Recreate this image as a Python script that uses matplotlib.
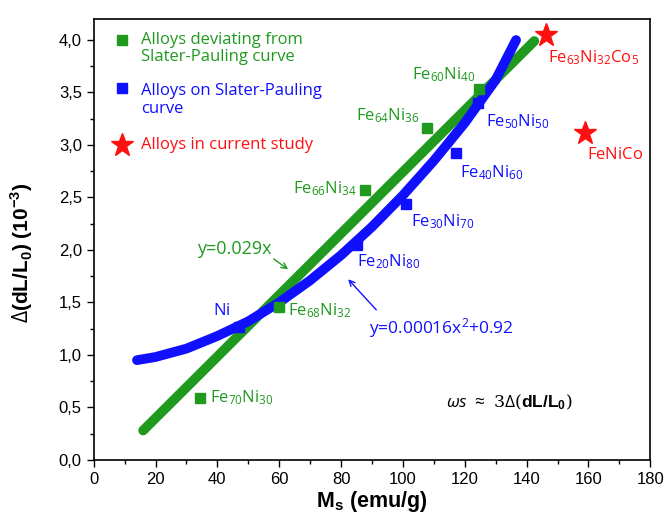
import matplotlib
matplotlib.use("Agg")
from matplotlib import pyplot as plt
from matplotlib.ticker import MultipleLocator, FuncFormatter

plt.rcParams['font.family'] = ['Liberation Sans', 'DejaVu Sans']
plt.rcParams['mathtext.fontset'] = 'custom'
plt.rcParams['mathtext.rm'] = 'Open Sans'
plt.rcParams['mathtext.it'] = 'Open Sans:italic'
plt.rcParams['mathtext.bf'] = 'Liberation Sans:bold'

# alloys deviating from Slater-Pauling curve (green)
dev_names = ['Fe70Ni30', 'Fe68Ni32', 'Fe66Ni34', 'Fe64Ni36', 'Fe60Ni40']
dev_ms = [34.4, 59.8, 87.6, 107.8, 124.6]
dev_dl = [0.59, 1.46, 2.57, 3.16, 3.53]

# alloys on Slater-Pauling curve (blue)
sp_names = ['Ni', 'Fe20Ni80', 'Fe30Ni70', 'Fe40Ni60', 'Fe50Ni50']
sp_ms = [47.0, 85.0, 101.0, 117.2, 124.3]
sp_dl = [1.27, 2.05, 2.44, 2.92, 3.40]

# alloys in current study (red stars)
cur_names = ['Fe63Ni32Co5', 'FeNiCo']
cur_ms = [146.4, 159.0]
cur_dl = [4.05, 3.11]

# fitted lines
lin_x = [16, 142.5]
lin_y = [0.28, 3.99]
quad_x = [14, 20, 30, 40, 50, 60, 70, 80, 90, 100, 110, 120, 130, 136.6]
quad_y = [0.95, 0.98, 1.06, 1.18, 1.32, 1.50, 1.71, 1.95, 2.22, 2.52, 2.85, 3.21, 3.62, 4.0]

verde = '#1f9a1f'
azul = '#1010ff'
rojo = '#ff1010'

fig = plt.figure(figsize=(6.69, 5.28), dpi=100)
ax = fig.add_axes([0.140, 0.129, 0.832, 0.835])

ax.plot(lin_x, lin_y, color=verde, lw=7, solid_capstyle='round', zorder=2)
ax.plot(quad_x, quad_y, color=azul, lw=7, solid_capstyle='round', zorder=3)
ax.plot(dev_ms, dev_dl, 's', color=verde, ms=6.5, zorder=4)
ax.plot(sp_ms, sp_dl, 's', color=azul, ms=7, zorder=4)
ax.plot(cur_ms, cur_dl, '*', color=rojo, ms=17, mec=rojo, zorder=5)


def quim(nombre):
    # Fe60Ni40 -> Fe con subindices
    partes = ''
    i = 0
    while i < len(nombre):
        if nombre[i].isdigit():
            j = i
            while j < len(nombre) and nombre[j].isdigit():
                j += 1
            partes += '_{' + nombre[i:j] + '}'
            i = j
        else:
            partes += nombre[i]
            i += 1
    return r'$\mathrm{' + partes + '}$'


fs = 12
etiquetas = [
    ('Fe70Ni30', 37.5, 0.59, verde),
    ('Fe68Ni32', 63.0, 1.42, verde),
    ('Fe66Ni34', 64.4, 2.58, verde),
    ('Fe64Ni36', 84.7, 3.28, verde),
    ('Fe60Ni40', 103.0, 3.67, verde),
    ('Ni', 38.5, 1.42, azul),
    ('Fe20Ni80', 85.0, 1.89, azul),
    ('Fe30Ni70', 102.7, 2.27, azul),
    ('Fe40Ni60', 118.5, 2.74, azul),
    ('Fe50Ni50', 127.0, 3.22, azul),
    ('Fe63Ni32Co5', 147.0, 3.83, rojo),
    ('FeNiCo', 159.4, 2.90, rojo),
]
for nombre, x, y, c in etiquetas:
    ax.text(x, y, quim(nombre), color=c, fontsize=fs, va='center', ha='left',
            family=['Open Sans', 'DejaVu Sans'])

ax.text(33.3, 2.01, 'y=0.029x', color=verde, fontsize=13, va='center',
        family=['Open Sans', 'DejaVu Sans'])
ax.text(89, 1.26, r'y=0.00016x$^{2}$+0.92', color=azul, fontsize=12.5, va='center',
        family=['Open Sans', 'DejaVu Sans'])
ax.annotate('', xy=(63.6, 1.80), xytext=(57.5, 1.93),
            arrowprops=dict(arrowstyle='->', color=verde, lw=1))
ax.annotate('', xy=(81.7, 1.74), xytext=(92.0, 1.41),
            arrowprops=dict(arrowstyle='->', color=azul, lw=1))

ax.text(114, 0.55, r'$\mathit{\omega s}$ $\approx$ 3$\Delta$($\mathbf{dL/L_0}$)',
        fontsize=12.5, va='center', family=['DejaVu Serif'])

# leyenda hecha a mano
ax.plot([9.2], [4.0], 's', color=verde, ms=6.5, clip_on=False)
ax.text(15.3, 3.92, 'Alloys deviating from\nSlater-Pauling curve', color=verde,
        fontsize=12, va='center', ha='left', linespacing=1.15,
        family=['Open Sans', 'DejaVu Sans'])
ax.plot([9.2], [3.54], 's', color=azul, ms=6.5)
ax.text(15.3, 3.43, 'Alloys on Slater-Pauling\ncurve', color=azul,
        fontsize=12, va='center', ha='left', linespacing=1.15,
        family=['Open Sans', 'DejaVu Sans'])
ax.plot([9.2], [3.0], '*', color=rojo, ms=17)
ax.text(15.3, 3.0, 'Alloys in current study', color=rojo,
        fontsize=12, va='center', ha='left', family=['Open Sans', 'DejaVu Sans'])

ax.set_xlim(0, 180)
ax.set_ylim(0, 4.2)
ax.xaxis.set_major_locator(MultipleLocator(20))
ax.xaxis.set_minor_locator(MultipleLocator(10))
ax.yaxis.set_major_locator(MultipleLocator(0.5))
ax.yaxis.set_minor_locator(MultipleLocator(0.25))
ax.yaxis.set_major_formatter(FuncFormatter(lambda v, p: ('%.1f' % v).replace('.', ',')))
ax.tick_params(which='both', direction='out', top=False, right=False, labelsize=12)
ax.tick_params(which='major', length=5, width=1)
ax.tick_params(which='minor', length=3, width=1)
for s in ax.spines.values():
    s.set_linewidth(1.2)

ax.set_xlabel(r'M$_\mathbf{s}$ (emu/g)', fontsize=15.5, fontweight='bold', labelpad=2)
ax.set_ylabel(r'$\Delta$(dL/L$_\mathbf{0}$) (10$^\mathbf{-3}$)', fontsize=15,
              fontweight='bold')
ax.yaxis.set_label_coords(-0.105, 0.47)

plt.savefig('out.png', dpi=100)
